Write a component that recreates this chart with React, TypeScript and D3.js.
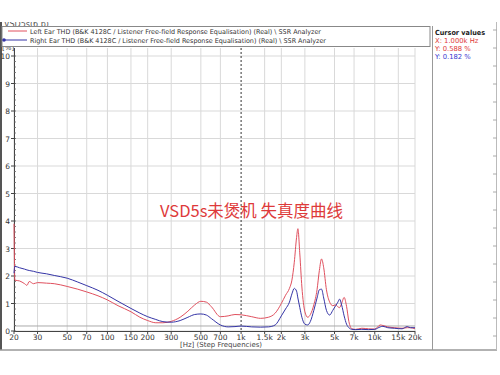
import * as d3 from 'd3';
import React from 'react';

const freqs = [20, 20.3, 22, 24, 25, 26, 28, 30, 35, 40, 50, 60, 70, 85, 100, 120, 150, 175, 200, 230, 260, 300, 350, 400, 450, 500, 550, 600, 700, 800, 900, 1000, 1200, 1400, 1600, 1800, 2000, 2150, 2300, 2400, 2500, 2600, 2660, 2750, 2850, 3000, 3150, 3300, 3500, 3700, 3850, 4000, 4150, 4350, 4600, 4850, 5100, 5300, 5450, 5650, 5900, 6150, 6400, 6750, 7200, 8000, 9000, 10000, 11000, 11500, 12500, 14000, 16000, 17500, 18500, 20000];

// THD in %
const leftTHD = [3.9, 1.85, 1.82, 1.72, 1.66, 1.8, 1.72, 1.76, 1.74, 1.72, 1.62, 1.52, 1.42, 1.28, 1.13, 0.92, 0.7, 0.5, 0.38, 0.3, 0.3, 0.35, 0.5, 0.72, 0.95, 1.08, 1.05, 0.88, 0.52, 0.55, 0.6, 0.59, 0.52, 0.46, 0.5, 0.65, 1.0, 1.3, 1.55, 1.85, 2.5, 3.4, 3.72, 2.8, 1.6, 0.7, 0.5, 0.6, 0.95, 1.5, 2.2, 2.62, 2.3, 1.5, 1.05, 0.92, 0.95, 0.88, 0.85, 1.0, 1.22, 0.9, 0.35, 0.08, 0.06, 0.1, 0.08, 0.07, 0.22, 0.2, 0.15, 0.12, 0.1, 0.12, 0.12, 0.08];
const rightTHD = [2.1, 2.35, 2.3, 2.25, 2.22, 2.2, 2.17, 2.13, 2.08, 2.02, 1.92, 1.78, 1.65, 1.48, 1.3, 1.08, 0.82, 0.65, 0.52, 0.42, 0.34, 0.32, 0.38, 0.5, 0.6, 0.62, 0.58, 0.45, 0.22, 0.15, 0.16, 0.18, 0.15, 0.14, 0.15, 0.22, 0.55, 0.8, 1.05, 1.35, 1.55, 1.45, 1.2, 0.85, 0.5, 0.25, 0.22, 0.35, 0.75, 1.2, 1.5, 1.52, 1.2, 0.75, 0.58, 0.75, 0.92, 1.05, 1.16, 0.95, 0.55, 0.25, 0.12, 0.06, 0.05, 0.06, 0.05, 0.06, 0.15, 0.17, 0.12, 0.1, 0.08, 0.16, 0.12, 0.12];

const xTicks = [20, 30, 50, 70, 100, 150, 200, 300, 500, 700, 1000, 1500, 2000, 3000, 5000, 7000, 10000, 15000, 20000];
const yTicks = [0, 1, 2, 3, 4, 5, 6, 7, 8, 9, 10];

const legendLabels = [
  'Left Ear THD (B&K 4128C / Listener Free-field Response Equalisation) (Real) \\ SSR Analyzer',
  'Right Ear THD (B&K 4128C / Listener Free-field Response Equalisation) (Real) \\ SSR Analyzer',
];
const cursorX = 1000;
const cursorY = [0.588, 0.182];

const RED = '#e0505e';
const BLUE = '#3434a6';
const font = 'DejaVu Sans';

export default function App() {
  const x = d3.scaleLog().domain([20, 20000]).range([14, 415]);
  const y = d3.scaleLinear().domain([0, 10]).range([331, 56]);
  const plotTop = 48;

  const line = (vals: number[]) =>
    d3.line<number>()
      .x((_, i) => x(freqs[i]))
      .y((d) => y(d))
      .curve(d3.curveMonotoneX)(vals) || '';

  const fmtX = (f: number) => (f >= 1000 ? f / 1000 + 'k' : String(f));
  const minor = d3.range(0, 10.01, 0.2);

  return (
    <svg width={500} height={375} style={{ position: 'absolute', left: 0, top: 0, background: '#fff' }}>
      <defs>
        <clipPath id="topclip"><rect x={0} y={22} width={500} height={5} /></clipPath>
      </defs>
      {/* clipped window caption */}
      <text x={4} y={27} fontFamily={font} fontSize={8} fill="#555" clipPath="url(#topclip)">VSD5s(6 p)</text>
      {/* window frame */}
      <line x1={1} x2={1} y1={22} y2={350} stroke="#555" strokeWidth={2} />
      <line x1={0} x2={497} y1={350} y2={350} stroke="#999" strokeWidth={1.5} />
      <line x1={496.5} x2={496.5} y1={22} y2={350} stroke="#bbb" />
      <line x1={432.5} x2={432.5} y1={26} y2={350} stroke="#999" />
      {d3.range(30, 350, 18).map((v) => (
        <line key={v} x1={493} x2={497} y1={v} y2={v} stroke="#aaa" />
      ))}

      {/* grid */}
      {yTicks.map((t) => (
        <line key={'h' + t} x1={14} x2={415} y1={y(t)} y2={y(t)} stroke="#d9d9d9" />
      ))}
      {xTicks.filter((f) => f !== cursorX).map((f) => (
        <line key={'v' + f} x1={x(f)} x2={x(f)} y1={plotTop} y2={331} stroke="#d9d9d9" />
      ))}
      {/* cursor lines */}
      <line x1={x(cursorX)} x2={x(cursorX)} y1={plotTop} y2={331} stroke="#333" strokeDasharray="2,2" />
      <line x1={14} x2={415} y1={y(cursorY[1])} y2={y(cursorY[1])} stroke="#aaa" />

      {/* axes */}
      <line x1={14.5} x2={14.5} y1={plotTop} y2={331} stroke="#444" />
      <line x1={14} x2={415} y1={331.5} y2={331.5} stroke="#444" />
      {minor.map((v) => (
        <line key={'m' + v} x1={14} x2={16} y1={y(v)} y2={y(v)} stroke="#666" strokeWidth={0.8} />
      ))}
      {yTicks.map((t) => (
        <g key={'yt' + t}>
          <line x1={11} x2={15} y1={y(t)} y2={y(t)} stroke="#444" />
          <text x={10} y={y(t) + 3} textAnchor="end" fontFamily={font} fontSize={7.5} fill="#333">{t}</text>
        </g>
      ))}
      {xTicks.map((f) => (
        <g key={'xt' + f}>
          <line x1={x(f)} x2={x(f)} y1={331} y2={334} stroke="#444" />
          <text x={x(f)} y={340} textAnchor="middle" fontFamily={font} fontSize={7.5} fill="#333">{fmtX(f)}</text>
        </g>
      ))}
      <text x={2} y={50} fontFamily={font} fontSize={7} fill="#333">[%]</text>
      <text x={221} y={347} textAnchor="middle" fontFamily={font} fontSize={7} fill="#444">[Hz] (Step Frequencies)</text>

      {/* curves */}
      <path d={line(leftTHD)} fill="none" stroke={RED} strokeWidth={1} />
      <path d={line(rightTHD)} fill="none" stroke={BLUE} strokeWidth={1} />

      {/* title */}
      <text x={160} y={217} fontFamily="'Noto Sans CJK SC', sans-serif" fontSize={16.5} fill="#de3a3a">VSD5s未煲机 失真度曲线</text>

      {/* legend */}
      <rect x={2} y={26.5} width={428} height={20} fill="#fff" stroke="#888" />
      <line x1={8} x2={27} y1={31} y2={31} stroke={RED} />
      <text x={30} y={34} fontFamily={font} fontSize={6.6} fill="#333" textLength={291} lengthAdjust="spacingAndGlyphs">{legendLabels[0]}</text>
      <line x1={3} x2={27} y1={40} y2={40} stroke={BLUE} />
      <circle cx={4} cy={40} r={1.8} fill={BLUE} />
      <text x={30} y={43} fontFamily={font} fontSize={6.6} fill="#333" textLength={296} lengthAdjust="spacingAndGlyphs">{legendLabels[1]}</text>

      {/* cursor panel */}
      <text x={435} y={35} fontFamily={font} fontSize={7} fontWeight="bold" fill="#222" textLength={50} lengthAdjust="spacingAndGlyphs">Cursor values</text>
      <text x={435} y={43} fontFamily={font} fontSize={6.8} fill="#e03a3a">X: 1.000k Hz</text>
      <text x={435} y={51} fontFamily={font} fontSize={6.8} fill="#e03a3a">Y: {cursorY[0].toFixed(3)} %</text>
      <text x={435} y={59} fontFamily={font} fontSize={6.8} fill="#3a3ad0">Y: {cursorY[1].toFixed(3)} %</text>
    </svg>
  );
}
